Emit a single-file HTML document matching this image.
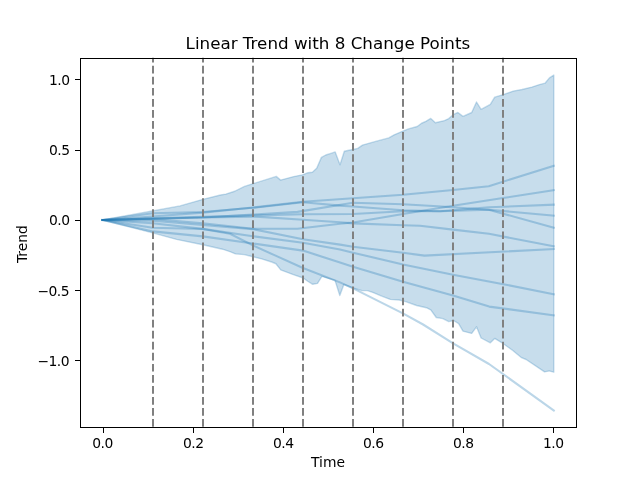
<!DOCTYPE html>
<html lang="en"><head><meta charset="utf-8"><title>Linear Trend with 8 Change Points</title>
<style>html,body{margin:0;padding:0;background:#fff}body{width:640px;height:480px;overflow:hidden}svg{display:block}</style></head>
<body>
<svg width="640" height="480" viewBox="0 0 640 480">
<rect width="640" height="480" fill="#fff"/>
<clipPath id="c"><rect x="80" y="57.6" width="496" height="369.6"/></clipPath>
<g clip-path="url(#c)">
<polygon points="102.50,220.00 180.00,205.90 203.00,199.35 220.50,195.00 225.90,194.10 234.70,191.25 244.50,186.40 253.30,183.60 276.25,176.40 280.60,180.10 293.75,176.60 302.50,174.85 308.00,172.70 312.40,172.20 316.70,168.30 321.40,157.40 325.75,155.00 330.80,153.40 335.20,151.90 340.00,164.80 344.30,151.30 348.90,150.20 353.10,149.50 357.70,148.40 362.50,145.10 375.60,141.40 388.75,137.90 394.20,134.80 403.00,131.10 408.40,128.90 417.20,126.50 421.60,123.25 425.90,121.30 430.75,118.40 435.40,122.80 444.50,120.60 448.75,118.60 453.10,114.70 457.90,112.50 463.00,116.40 471.70,112.50 476.50,102.00 481.10,109.40 490.30,104.40 494.70,97.20 503.40,94.60 513.30,91.10 522.00,89.50 531.90,87.10 539.50,84.60 545.00,83.20 549.40,77.90 553.80,75.10 553.80,372.20 549.20,370.90 544.60,371.90 526.10,359.50 521.60,357.70 517.00,354.00 512.50,350.30 503.40,343.70 494.70,338.40 490.30,342.80 481.10,338.00 476.50,326.80 471.70,333.40 463.00,331.20 458.60,323.60 453.60,320.50 448.75,321.60 442.80,318.60 436.25,317.50 430.80,309.90 426.40,307.70 416.60,305.50 405.60,301.60 399.10,300.00 390.30,299.40 381.60,296.10 372.80,292.40 367.30,290.60 361.90,290.60 353.10,288.00 343.90,284.50 339.80,295.50 335.00,280.40 321.90,276.40 317.50,283.40 312.70,284.30 307.70,281.25 303.30,278.00 293.40,274.70 280.75,269.90 275.90,263.75 271.60,262.00 261.70,258.90 253.00,256.75 244.20,254.60 235.50,253.90 230.00,251.70 222.50,249.20 202.80,244.80 176.60,239.40 152.50,232.80 102.50,220.00" fill="#1f77b4" fill-opacity="0.25" stroke="#1f77b4" stroke-opacity="0.25" stroke-width="1.39" stroke-linejoin="round"/>
<polyline points="102.50,220.00 152.65,216.50 202.75,212.60 252.85,207.50 302.95,201.70 353.00,198.30 403.00,194.80 453.00,190.00 488.75,186.20 553.80,165.75" fill="none" stroke="#1f77b4" stroke-opacity="0.3" stroke-width="2.08" stroke-linejoin="round" stroke-linecap="square"/>
<polyline points="102.50,220.00 152.65,213.30 202.75,212.00 252.85,207.80 302.95,202.30 340.00,205.60 353.00,206.50 403.00,210.20 440.00,211.20 489.00,209.70 553.80,215.60" fill="none" stroke="#1f77b4" stroke-opacity="0.3" stroke-width="2.08" stroke-linejoin="round" stroke-linecap="square"/>
<polyline points="102.50,220.00 152.65,218.60 202.75,217.50 252.85,214.60 297.50,211.90 353.00,202.80 403.00,204.30 437.50,206.25 488.75,209.70 553.80,227.70" fill="none" stroke="#1f77b4" stroke-opacity="0.3" stroke-width="2.08" stroke-linejoin="round" stroke-linecap="square"/>
<polyline points="102.50,220.00 152.65,218.40 202.75,216.90 252.85,215.40 302.95,214.30 353.00,214.00 403.00,211.30 440.00,211.30 489.00,207.30 553.80,204.70" fill="none" stroke="#1f77b4" stroke-opacity="0.3" stroke-width="2.08" stroke-linejoin="round" stroke-linecap="square"/>
<polyline points="102.50,220.00 152.65,218.70 202.75,217.50 252.85,216.70 260.00,216.90 302.95,219.70 340.00,222.25 353.00,223.40 403.00,225.30 420.00,225.80 453.00,229.60 489.00,233.80 553.80,246.30" fill="none" stroke="#1f77b4" stroke-opacity="0.3" stroke-width="2.08" stroke-linejoin="round" stroke-linecap="square"/>
<polyline points="102.50,220.00 152.65,219.00 202.75,223.30 252.85,228.80 297.50,228.80 340.00,223.75 353.00,222.50 403.00,214.00 453.00,205.80 503.00,198.00 553.80,190.25" fill="none" stroke="#1f77b4" stroke-opacity="0.3" stroke-width="2.08" stroke-linejoin="round" stroke-linecap="square"/>
<polyline points="102.50,220.00 152.65,220.80 202.75,225.00 252.85,229.10 302.95,239.30 340.00,244.60 353.00,246.70 403.00,252.80 424.50,255.60 553.80,249.00" fill="none" stroke="#1f77b4" stroke-opacity="0.3" stroke-width="2.08" stroke-linejoin="round" stroke-linecap="square"/>
<polyline points="102.50,220.00 152.65,223.30 202.75,228.90 252.85,236.20 302.95,242.70 340.00,249.60 353.00,252.70 403.00,264.40 453.00,274.80 503.40,284.25 553.80,294.20" fill="none" stroke="#1f77b4" stroke-opacity="0.3" stroke-width="2.08" stroke-linejoin="round" stroke-linecap="square"/>
<polyline points="102.50,220.00 152.65,231.40 202.75,236.40 252.85,243.50 302.95,250.60 340.00,262.40 353.00,266.75 403.00,281.80 453.00,295.60 489.20,306.60 553.80,315.30" fill="none" stroke="#1f77b4" stroke-opacity="0.3" stroke-width="2.08" stroke-linejoin="round" stroke-linecap="square"/>
<polyline points="102.50,220.00 152.65,227.70 202.75,229.00 230.00,233.80 252.90,245.40 275.00,255.40 302.95,268.00 340.00,282.40 353.10,288.40 403.40,313.60 423.10,324.50 452.70,343.10 489.00,364.00 553.80,410.50" fill="none" stroke="#1f77b4" stroke-opacity="0.3" stroke-width="2.08" stroke-linejoin="round" stroke-linecap="square"/>
<line x1="153" y1="426.8" x2="153" y2="57.6" stroke="#808080" stroke-width="2" stroke-dasharray="7.71 3.33"/>
<line x1="203" y1="426.8" x2="203" y2="57.6" stroke="#808080" stroke-width="2" stroke-dasharray="7.71 3.33"/>
<line x1="253" y1="426.8" x2="253" y2="57.6" stroke="#808080" stroke-width="2" stroke-dasharray="7.71 3.33"/>
<line x1="303" y1="426.8" x2="303" y2="57.6" stroke="#808080" stroke-width="2" stroke-dasharray="7.71 3.33"/>
<line x1="353" y1="426.8" x2="353" y2="57.6" stroke="#808080" stroke-width="2" stroke-dasharray="7.71 3.33"/>
<line x1="403" y1="426.8" x2="403" y2="57.6" stroke="#808080" stroke-width="2" stroke-dasharray="7.71 3.33"/>
<line x1="453" y1="426.8" x2="453" y2="57.6" stroke="#808080" stroke-width="2" stroke-dasharray="7.71 3.33"/>
<line x1="503" y1="426.8" x2="503" y2="57.6" stroke="#808080" stroke-width="2" stroke-dasharray="7.71 3.33"/>
</g>
<g shape-rendering="crispEdges" fill="#000">
<rect x="80" y="58" width="497" height="1"/>
<rect x="80" y="427" width="497" height="1"/>
<rect x="80" y="58" width="1" height="370"/>
<rect x="576" y="58" width="1" height="370"/>
<rect x="103" y="428" width="1" height="5"/>
<rect x="193" y="428" width="1" height="5"/>
<rect x="283" y="428" width="1" height="5"/>
<rect x="373" y="428" width="1" height="5"/>
<rect x="463" y="428" width="1" height="5"/>
<rect x="553" y="428" width="1" height="5"/>
<rect x="75" y="79" width="5" height="1"/>
<rect x="75" y="150" width="5" height="1"/>
<rect x="75" y="220" width="5" height="1"/>
<rect x="75" y="290" width="5" height="1"/>
<rect x="75" y="360" width="5" height="1"/>
</g>
<g font-family="'DejaVu Sans', 'Liberation Sans', sans-serif" fill="#000">
<text x="102.55" y="447.5" font-size="13.89" text-anchor="middle" letter-spacing="-0.5">0.0</text>
<text x="193.25" y="447.5" font-size="13.89" text-anchor="middle" letter-spacing="-0.5">0.2</text>
<text x="283.25" y="447.5" font-size="13.89" text-anchor="middle" letter-spacing="-0.5">0.4</text>
<text x="373.25" y="447.5" font-size="13.89" text-anchor="middle" letter-spacing="-0.5">0.6</text>
<text x="463.25" y="447.5" font-size="13.89" text-anchor="middle" letter-spacing="-0.5">0.8</text>
<text x="553.25" y="447.5" font-size="13.89" text-anchor="middle" letter-spacing="-0.5">1.0</text>
<text x="69.6" y="84.80" font-size="13.89" text-anchor="end" letter-spacing="-0.5">1.0</text>
<text x="69.6" y="155.40" font-size="13.89" text-anchor="end" letter-spacing="-0.5">0.5</text>
<text x="69.6" y="225.30" font-size="13.89" text-anchor="end" letter-spacing="-0.5">0.0</text>
<text x="69.1" y="296.00" font-size="13.89" text-anchor="end" letter-spacing="-0.5">−0.5</text>
<text x="69.1" y="366.30" font-size="13.89" text-anchor="end" letter-spacing="-0.5">−1.0</text>
<text x="328" y="466.5" font-size="13.89" text-anchor="middle">Time</text>
<text transform="translate(26.6,244.1) rotate(-90)" font-size="13.89" text-anchor="middle">Trend</text>
<text x="327.9" y="49.3" font-size="16.73" text-anchor="middle">Linear Trend with 8 Change Points</text>
</g>
</svg>
</body></html>
